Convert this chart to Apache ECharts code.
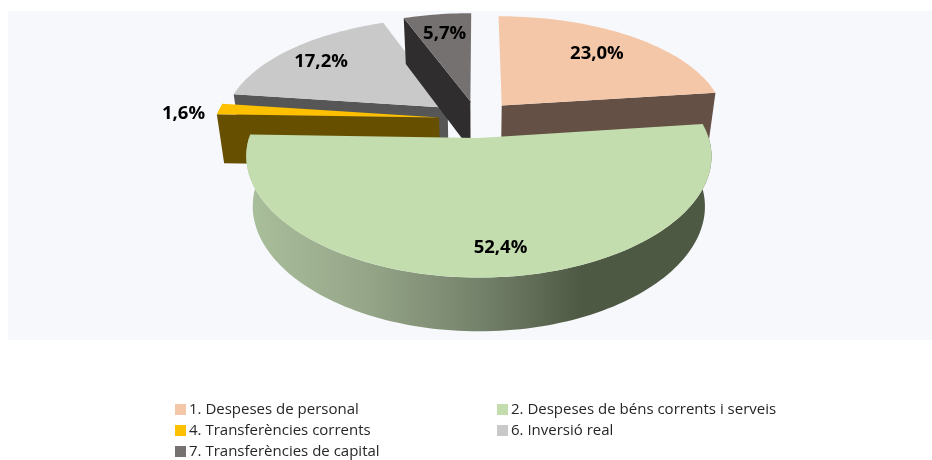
<!DOCTYPE html>
<html>
<head>
<meta charset="utf-8">
<style>html,body{margin:0;padding:0;background:#fff}#c{width:932px;height:460px}</style>
<script src="https://cdn.jsdelivr.net/npm/echarts@6/dist/echarts.min.js"></script>
</head>
<body>
<div id="c"></div>
<script>
var categories = ['1. Despeses de personal','2. Despeses de béns corrents i serveis','4. Transferències corrents','6. Inversió real','7. Transferències de capital'];
var values = [23.0, 52.4, 1.6, 17.2, 5.7];

// styling and projection (no data here)
var topColors = ['#F5C7A9','#C4DDAF','#FFC000','#C9C9C9','#767171'];
var cutColors = ['#655045','#4E5944','#665000','#565656','#2F2D2D'];
var paintOrder = [1,4,3,0,2];          // z rank per slice, back to front
var labelPolar = [[0.72,0],[0.82,-3],[1.15,-3],[0.78,-1.5],[0.75,0]];
var CX=477, CY=119, R=224, RY=108.6, K=0.17, KX=0.15, EXPLODE=0.17;

var total = values.reduce(function(a,b){return a+b;},0);
var starts = []; values.reduce(function(acc,v,i){starts[i]=acc;return acc+v;},0);
function rad(d){return d*Math.PI/180;}
function project(X,Y,bottom){
  var s=1/(1-K*Y), sx=1/(1-KX*Y), x=CX+R*X*sx, y=CY+RY*Y*s;
  if(bottom){ x=CX+(x-CX)*0.972; y+=30+19*s; }
  return [x,y];
}
function discPoint(ox,oy,ang,r){ return [ox+r*Math.sin(rad(ang)), oy-r*Math.cos(rad(ang))]; }
function arc(ox,oy,a0,a1,bottom){
  var pts=[], n=Math.max(2,Math.ceil((a1-a0)/1.5));
  for(var i=0;i<=n;i++){var p=discPoint(ox,oy,a0+(a1-a0)*i/n,1);pts.push(project(p[0],p[1],bottom));}
  return pts;
}
function poly(points,fill){ return {type:'polygon',shape:{points:points},style:{fill:fill},silent:true}; }

function renderSlice(idx){
  return function(params,api){
    var v=api.value(0);
    var a0=starts[idx]/total*360, a1=a0+v/total*360, mid=(a0+a1)/2;
    var ox=EXPLODE*Math.sin(rad(mid)), oy=-EXPLODE*Math.cos(rad(mid));
    var apexT=project(ox,oy,false), apexB=project(ox,oy,true);
    var kids=[];
    function cut(a){
      var p=discPoint(ox,oy,a,1);
      kids.push(poly([apexT,project(p[0],p[1],false),project(p[0],p[1],true),apexB],cutColors[idx]));
    }
    if(Math.sin(rad(a0))<-1e-6) cut(a0);
    if(Math.sin(rad(a1))>1e-6) cut(a1);
    var w0=Math.max(a0,90), w1=Math.min(a1,270);
    if(w1>w0){
      var t=arc(ox,oy,w0,w1,false), b=arc(ox,oy,w0,w1,true).reverse();
      kids.push(poly(t.concat(b),{type:'linear',x:0,y:0,x2:1,y2:0,colorStops:[
        {offset:0,color:'#AABF9C'},{offset:0.25,color:'#96A789'},{offset:0.5,color:'#75826B'},{offset:0.72,color:'#4E5944'},{offset:1,color:'#4E5944'}]}));
    }
    kids.push(poly([apexT].concat(arc(ox,oy,a0,a1,false)),topColors[idx]));
    var lp=discPoint(ox,oy,mid+labelPolar[idx][1],labelPolar[idx][0]);
    var lxy=project(lp[0],lp[1],false);
    kids.push({type:'text',x:lxy[0],y:lxy[1],z2:50,silent:true,style:{
      text:v.toFixed(1).replace('.',',')+'%',align:'center',verticalAlign:'middle',
      fill:'#000',font:'bold 18.5px "Open Sans"'}});
    return {type:'group',children:kids};
  };
}

var chart=echarts.init(document.getElementById('c'),null,{renderer:'canvas'});
var legendBase={orient:'vertical',icon:'rect',itemWidth:11,itemHeight:11,itemGap:6,padding:0,
  textStyle:{color:'#262626',fontFamily:'Open Sans',fontSize:15,padding:[0,0,0,-2]},selectedMode:false};
chart.setOption({
  animation:false,
  backgroundColor:'#fff',
  graphic:[{type:'rect',z:-10,silent:true,shape:{x:8,y:11,width:924,height:329},style:{fill:'#F6F8FC'}}],
  legend:[
    Object.assign({},legendBase,{left:175,top:402,data:[categories[0],categories[2],categories[4]]}),
    Object.assign({},legendBase,{left:497,top:402,data:[categories[1],categories[3]]})
  ],
  series:categories.map(function(name,i){
    return {type:'custom',name:name,coordinateSystem:'none',z:2+paintOrder[i],
      itemStyle:{color:topColors[i]},renderItem:renderSlice(i),data:[[values[i]]]};
  })
});
</script>
</body>
</html>
